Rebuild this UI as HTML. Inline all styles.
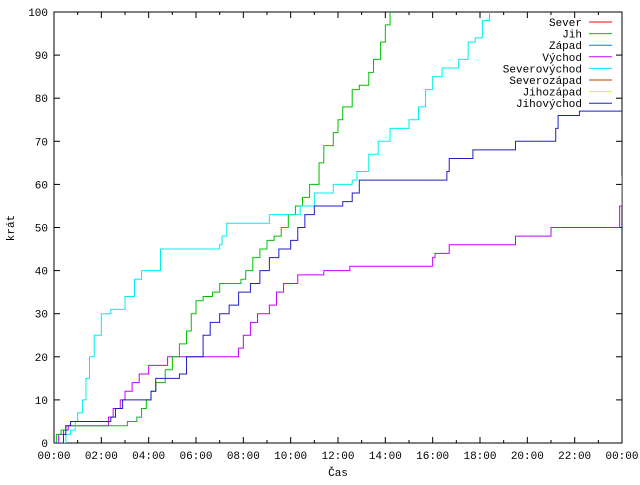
<!DOCTYPE html>
<html><head><meta charset="utf-8"><style>
body{margin:0;background:#fff}
text{font-family:"Liberation Mono","DejaVu Sans Mono",monospace;font-size:11px;fill:#000}
</style></head><body>
<svg id="c" width="640" height="480" xmlns="http://www.w3.org/2000/svg">
<defs><clipPath id="pc"><rect x="54" y="12" width="568" height="431"/></clipPath></defs>
<g id="axes"></g>
<g id="series" clip-path="url(#pc)"></g>
<g id="legend"></g>
<text x="338" y="476" text-anchor="middle">Čas</text>
<text x="14" y="228" text-anchor="middle" transform="rotate(-90 14 228)">krát</text>
</svg>
<script>
const xTicks=["00:00","02:00","04:00","06:00","08:00","10:00","12:00","14:00","16:00","18:00","20:00","22:00","00:00"];
const yTicks=[0,10,20,30,40,50,60,70,80,90,100];
const seriesNames=["Sever","Jih","Západ","Východ","Severovýchod","Severozápad","Jihozápad","Jihovýchod"];
const seriesColors=["#ff0000","#00c000","#0080ff","#c000ff","#00eeee","#c04000","#eeee00","#2020c0"];
// hours / values as step breakpoints
const jihH=[0,0.1,0.3,0.5,3.1,3.5,3.7,3.9,4.1,4.3,4.7,5.0,5.3,5.6,5.8,6.0,6.3,6.7,7.0,7.9,8.1,8.4,8.7,9.0,9.3,9.6,9.9,10.2,10.5,10.8,11.2,11.4,11.8,12.0,12.2,12.6,12.9,13.3,13.5,13.8,14.0,14.2];
const jihV=[0,2,3,4,5,6,8,10,12,14,17,20,23,26,30,33,34,35,37,38,40,43,45,47,48,50,53,55,57,60,65,69,72,75,78,82,83,86,89,93,97,100];
const vychodH=[0,0.1,0.2,0.4,0.6,2.3,2.5,2.8,3.0,3.3,3.6,4.0,4.8,7.8,8.0,8.3,8.6,9.1,9.4,9.7,10.3,11.4,12.5,16.0,16.1,16.7,19.5,21.0,23.8,23.9,24];
const vychodV=[0,0,2,3,4,6,8,10,12,14,16,18,20,22,25,28,30,32,35,37,39,40,41,43,44,46,48,50,50,55,62];
const svH=[0.3,0.5,0.7,0.9,1.0,1.2,1.35,1.5,1.7,2.0,2.4,3.0,3.4,3.7,4.5,7.0,7.1,7.3,7.5,9.1,10.4,11.0,11.8,12.6,12.8,13.3,13.7,14.2,15.0,15.4,15.7,16.0,16.4,17.1,17.5,17.8,18.1,18.4];
const svV=[0,2,3,5,7,10,15,20,25,30,31,34,38,40,45,46,48,51,51,53,55,58,60,61,63,67,70,73,75,78,82,85,87,89,93,94,98,100];
const jvH=[0,0.3,0.4,0.5,0.7,2.4,2.6,2.9,4.1,4.3,5.3,5.6,6.3,6.6,7.0,7.4,7.8,8.3,8.7,9.1,9.5,10.0,10.3,10.6,11.0,12.2,12.6,12.9,16.6,16.7,17.7,19.5,21.2,21.3,22.2,24];
const jvV=[0,0,2,4,5,6,8,10,12,15,16,20,25,28,30,32,35,37,40,43,45,47,50,53,55,56,58,61,63,66,68,70,73,76,77,77];
const L=54,R=622,T=12,B=443;
const X=h=>L+(R-L)*h/24, Y=v=>B-(B-T)*v/100;
const NS="http://www.w3.org/2000/svg";
function mk(tag,attrs,parent){const e=document.createElementNS(NS,tag);for(const k in attrs)e.setAttribute(k,attrs[k]);parent.appendChild(e);return e;}
const ax=document.getElementById('axes');
const frame=mk('rect',{x:L,y:T,width:R-L,height:B-T,fill:'none',stroke:'#000','stroke-width':1},ax);


yTicks.forEach(v=>{
  const y=Y(v);
  mk('line',{x1:L,x2:L+6,y1:y,y2:y,stroke:'#000'},ax);
  mk('line',{x1:R,x2:R-6,y1:y,y2:y,stroke:'#000'},ax);
  const t=mk('text',{x:L-6,y:y+4,'text-anchor':'end'},ax);t.textContent=v;
  
  
});
for(let h=0;h<=24;h++){
  const x=X(h),len=h%2?3:6;
  mk('line',{x1:x,x2:x,y1:B,y2:B-len,stroke:'#000'},ax);
  mk('line',{x1:x,x2:x,y1:T,y2:T+len,stroke:'#000'},ax);
}
xTicks.forEach((s,i)=>{
  const t=mk('text',{x:X(i*2),y:B+16,'text-anchor':'middle'},ax);t.textContent=s;
  
  
});
const sg=document.getElementById('series');
function step(H,V,color,name){
  let d='M'+X(H[0])+','+Y(V[0]);
  for(let i=1;i<H.length;i++){d+=' H'+X(H[i])+' V'+Y(V[i]);}
  const p=mk('path',{d:d,fill:'none',stroke:color,'stroke-width':1},sg);
  
  
}
step(vychodH,vychodV,seriesColors[3],'series-vychod');
step(jihH,jihV,seriesColors[1],'series-jih');
step(svH,svV,seriesColors[4],'series-severovychod');
step(jvH,jvV,seriesColors[7],'series-jihovychod');
const lg=document.getElementById('legend');
seriesNames.forEach((n,i)=>{
  const y=22+i*11.6;
  const t=mk('text',{x:582,y:y+4,'text-anchor':'end'},lg);t.textContent=n;
  
  
  const l=mk('line',{x1:582+7,x2:582+30,y1:y,y2:y,stroke:seriesColors[i]},lg);
  
  
});
</script>
</body></html>
